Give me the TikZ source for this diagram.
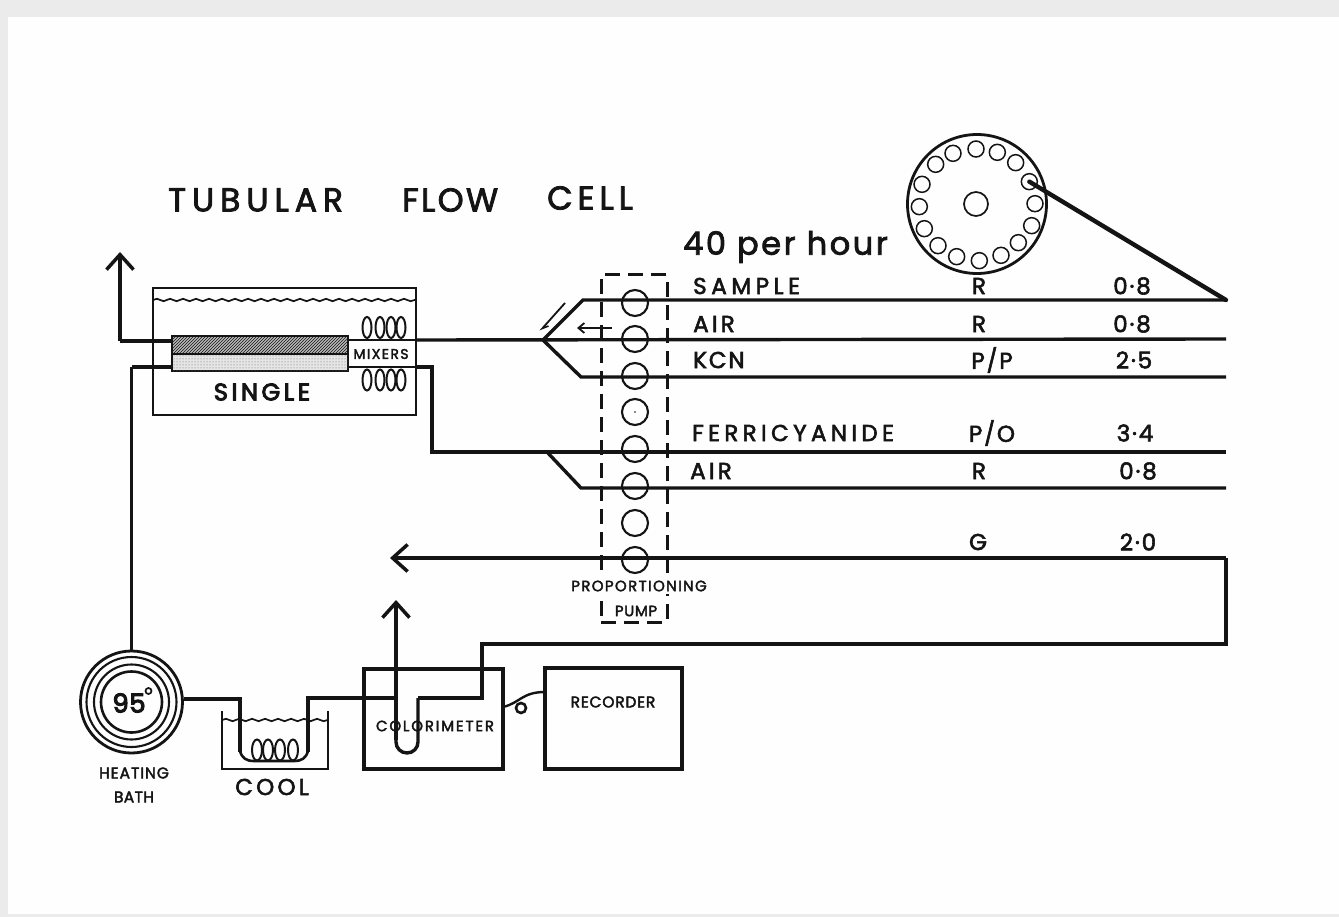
\documentclass[tikz,border=0pt]{standalone}
\usepackage{fontspec}
\usetikzlibrary{patterns,decorations.pathmorphing,arrows.meta}
\newfontfamily\pop[FakeBold=2.5]{Poppins}
\newfontfamily\popheavy[FakeBold=4]{Poppins}
\newcommand{\lsp}[1]{\addfontfeature{LetterSpace=#1}}
\newcommand{\fsz}[1]{\fontsize{#1}{#1}\selectfont}
\definecolor{ink}{HTML}{141414}
\definecolor{sheet}{HTML}{FEFEFE}
\definecolor{edge}{HTML}{EBEBEB}
\tikzset{
  pipe/.style={draw=ink,line width=3.4pt,line join=miter},
  thinpipe/.style={draw=ink,line width=1.9pt},
  thickpipe/.style={draw=ink,line width=4.4pt},
  openarrow/.style={-{Straight Barb[length=15pt,width=27pt,line width=3.5pt]}},
  smallarrow/.style={-{Straight Barb[length=6pt,width=10pt,line width=1.8pt]}},
  wave/.style={draw=ink,line width=1.7pt,decorate,decoration={snake,amplitude=1.2pt,segment length=13pt}},
  roller/.style={circle,draw=ink,line width=2.1pt,minimum size=26pt,inner sep=0pt},
  vial/.style={circle,draw=ink,line width=1.5pt,minimum size=16pt,inner sep=0pt},
  ring/.style={circle,draw=ink,line width=2.1pt,inner sep=0pt},
  coil/.style={draw=ink,line width=2pt},
  title/.style={inner sep=0pt,anchor=west,text=ink},
  reagent/.style={inner sep=0pt,anchor=west,text=ink},
  value/.style={inner sep=0pt,text=ink,font=\pop\fsz{23}\lsp{8}},
  small/.style={inner sep=0pt,text=ink},
}
\begin{document}
\begin{tikzpicture}[x=1pt,y=-1pt]
\useasboundingbox (0,0) rectangle (1339,917);
\fill[edge] (0,0) rectangle (1339,917);
\fill[sheet] (8,17) rectangle (1339,914);

% title
\node[title,font=\pop\fsz{33}\lsp{18}] (tubular) at (168,200) {TUBULAR};
\node[title,font=\pop\fsz{33}\lsp{7}] (flow) at (402,200) {FLOW};
\node[title,font=\pop\fsz{33}\lsp{15}] (cell) at (547,198) {CELL};
\node[title,font=\pop\fsz{32}\lsp{8}] (rate) at (683,247) {40 per hour};

% sampler
\node[circle,draw=ink,line width=2.8pt,minimum width=139pt,inner sep=0pt] (disk) at (977,204) {};
\node[circle,draw=ink,line width=1.7pt,minimum size=24pt,inner sep=0pt] (hub) at (976,204) {};
\foreach \n/\zx/\zy in {1/258/72,2/322/82,3/377/113,4/418/170,5/435/236,6/425/302,7/385/353,8/333/391,9/268/407,10/200/395,11/144/362,12/103/311,13/88/245,14/96/178,15/137/118,16/189/85}
  \node[vial] (vial\n) at ({890+\zx/3},{125+\zy/3}) {};

% pump
\node[draw=ink,line width=3pt,dash pattern=on 15pt off 8pt,minimum width=66pt,minimum height=347pt,inner sep=0pt] (pump) at (634,448.5) {};
\foreach \n/\y in {1/303,2/339,3/376,4/412,5/449,6/486,7/523,8/560}
  \node[roller] (roller\n) at (635,\y) {};
\fill[ink] (roller4) circle (0.8pt);

% junction coordinates
\coordinate (sampleEnd) at (1226,300);
\coordinate (sampleBend) at (583,300);
\coordinate (joinA) at (543,340);
\coordinate (airEnd) at (1226,339);
\coordinate (kcnEnd) at (1226,377);
\coordinate (kcnBend) at (581,377);
\coordinate (bathIn) at (416,340);
\coordinate (ferriEnd) at (1226,452);
\coordinate (ferriBend) at (432,452);
\coordinate (ferriUp) at (432,367);
\coordinate (bathIn2) at (416,367);
\coordinate (joinB) at (547,452);
\coordinate (air2End) at (1226,488);
\coordinate (air2Bend) at (581,488);
\coordinate (returnTip) at (390,558);
\coordinate (returnR) at (1226,558);
\coordinate (returnLow) at (1226,644);
\coordinate (colTop) at (482,644);
\coordinate (colIn) at (482,698);
\coordinate (uR) at (418,698);
\coordinate (uTip) at (396,600);
\coordinate (wasteTip) at (120,252);
\coordinate (wasteB) at (120,341);
\coordinate (feedB) at (131.5,367);

% tube unit
\node[draw=ink,line width=1.8pt,minimum width=263pt,minimum height=127pt,inner sep=0pt] (bath) at (284.5,351.5) {};
\draw[wave] (153,300) -- (416,300);
\path[draw=ink,line width=2.6pt,fill=gray!55,postaction={pattern=north east lines,pattern color=ink}] (172,336) rectangle (348,354);
\path[draw=ink,line width=2.6pt,fill=gray!20,postaction={pattern=dots,pattern color=gray!80!black}] (172,354) rectangle (348,371);
\coordinate (tubeTL) at (172,341);
\coordinate (tubeBL) at (172,367);
\coordinate (tubeTR) at (348,340);
\coordinate (tubeBR) at (348,367);
\draw[thinpipe] (tubeTR) -- (bathIn);
\draw[thinpipe] (tubeBR) -- (bathIn2);
\foreach \x in {367,380,391,401} {
  \draw[coil] (\x,327.5) ellipse (4.5pt and 10.5pt);
  \draw[coil] (\x,380) ellipse (4.5pt and 10.5pt);
}
\node[small,font=\pop\fsz{14}\lsp{10}] (mixers) at (381,354) {MIXERS};
\node[value,font=\popheavy\fsz{24}\lsp{15}] (single) at (262,392) {SINGLE};

% pipes
\draw[pipe] (sampleEnd) -- (sampleBend) -- (joinA);
\draw[pipe] (airEnd) -- (bathIn);
\draw[pipe] (kcnEnd) -- (kcnBend) -- (joinA);
\draw[pipe] (ferriEnd) -- (ferriBend) -- (ferriUp) -- (bathIn2);
\draw[pipe] (air2End) -- (air2Bend) -- (joinB);
\draw[thickpipe,line cap=round] (vial4.center) -- (sampleEnd);
\draw[pipe,openarrow] (wasteB) -- (wasteTip);
\draw[pipe] (tubeTL) -- (wasteB);
\draw[pipe] (tubeBL) -- (feedB);
\draw[pipe,openarrow] (returnR) -- (returnTip);
\draw[pipe] (returnR) -- (returnLow) -- (colTop) -- (colIn) -- (uR);

% flow arrows
\coordinate (flowA) at (612,328);
\coordinate (flowAtip) at (577,328);
\coordinate (flowB) at (565,303);
\coordinate (flowBtip) at (540,331);
\draw[draw=ink,line width=1.8pt,smallarrow] (flowA) -- (flowAtip);
\draw[draw=ink,line width=1.8pt,-{Straight Barb[left,length=6pt,width=6pt,line width=1.6pt]}] (flowB) -- (flowBtip);

% reagent labels
\node[reagent,font=\pop\fsz{23}\lsp{20}] (lSample) at (693,286) {SAMPLE};
\node[reagent,font=\pop\fsz{23}\lsp{14}] (lAir) at (693,324) {AIR};
\node[reagent,font=\pop\fsz{23}\lsp{8}] (lKcn) at (693,360) {KCN};
\node[reagent,font=\pop\fsz{23}\lsp{19}] (lFerri) at (692,433) {FERRICYANIDE};
\node[reagent,font=\pop\fsz{23}\lsp{14}] (lAirB) at (690,471) {AIR};
\node[value] (t1) at (979,286) {R};
\node[value] (t2) at (979,324) {R};
\node[value] (t3) at (992,360) {P/P};
\node[value] (t4) at (992,433) {P/O};
\node[value] (t5) at (979,471) {R};
\node[value] (t6) at (978,542) {G};
\node[value] (f1) at (1132,286) {0·8};
\node[value] (f2) at (1132,324) {0·8};
\node[value] (f3) at (1134,360) {2·5};
\node[value] (f4) at (1135,433) {3·4};
\node[value] (f5) at (1138,471) {0·8};
\node[value] (f6) at (1138,542) {2·0};
\node[small,fill=sheet,inner xsep=1pt,inner ysep=3pt,font=\pop\fsz{15}\lsp{9}] (lProp) at (639,586) {PROPORTIONING};
\node[small,font=\pop\fsz{15}\lsp{4}] (lPump) at (636,611) {PUMP};

% heating bath
\node[ring,minimum size=102pt,line width=2.8pt] (heatA) at (131.5,702) {};
\node[ring,minimum size=90pt] (heatB) at (131.5,702) {};
\node[ring,minimum size=75pt] (heatC) at (131.5,702) {};
\node[ring,minimum size=61pt,line width=2.6pt] (heatD) at (131.5,702) {};
\node[inner sep=0pt,text=ink,font=\popheavy\fsz{26}\lsp{2}] (temp) at (129,703) {95};
\node[ring,minimum size=6pt,line width=1.7pt] (deg) at (148.5,691) {};
\node[small,font=\pop\fsz{15.5}\lsp{6}] (lHeat) at (134,773) {HEATING};
\node[small,font=\pop\fsz{15.5}\lsp{2}] (lBath) at (134,797) {BATH};
\draw[pipe] (feedB) -- (heatA.north);

% cool
\coordinate (cLeft) at (240,699);
\coordinate (cRight) at (308,698);
\draw[draw=ink,line width=2.6pt] (222,711) -- (222,769) -- (328,769) -- (328,711);
\draw[wave] (222,720) -- (328,720);
\draw[pipe] (heatA.east |- cLeft) -- (cLeft) -- (240,752);
\draw[pipe] (308,752) -- (cRight) -- (364,698);
\draw[draw=ink,line width=2.6pt] (240,751) .. controls (242,758) and (246,761) .. (254,761) -- (294,761) .. controls (302,761) and (306,758) .. (308,751);
\foreach \x in {257,268,280,293}
  \draw[coil] (\x,750) ellipse (5pt and 10.5pt);
\node[value,font=\pop\fsz{23}\lsp{14}] (cool) at (272,787) {COOL};

% colorimeter
\node[draw=ink,line width=3.5pt,minimum width=139pt,minimum height=100pt,inner sep=0pt] (colorimeter) at (433.5,719) {};
\node[small,font=\pop\fsz{15}\lsp{12}] (lCol) at (435,726) {COLORIMETER};
\draw[pipe] (364,698) -- (396,698);
\draw[pipe,openarrow] (396,740) -- (uTip);
\draw[pipe] (uR) -- (418,742) arc[start angle=0,end angle=180,x radius=11,y radius=11] -- (396,738);

% recorder
\node[draw=ink,line width=3.5pt,minimum width=137pt,minimum height=101pt,inner sep=0pt] (recorder) at (613.5,718.5) {};
\node[small,font=\pop\fsz{15.5}\lsp{5}] (lRec) at (613,702) {RECORDER};
\node[ring,minimum size=10pt,line width=2.6pt] (knot) at (521,708) {};
\coordinate (wireA) at (503,707);
\coordinate (wireB) at (545,692);
\draw[draw=ink,line width=2.4pt] (wireA) .. controls (520,703) and (522,692) .. (wireB);
\end{tikzpicture}
\end{document}
